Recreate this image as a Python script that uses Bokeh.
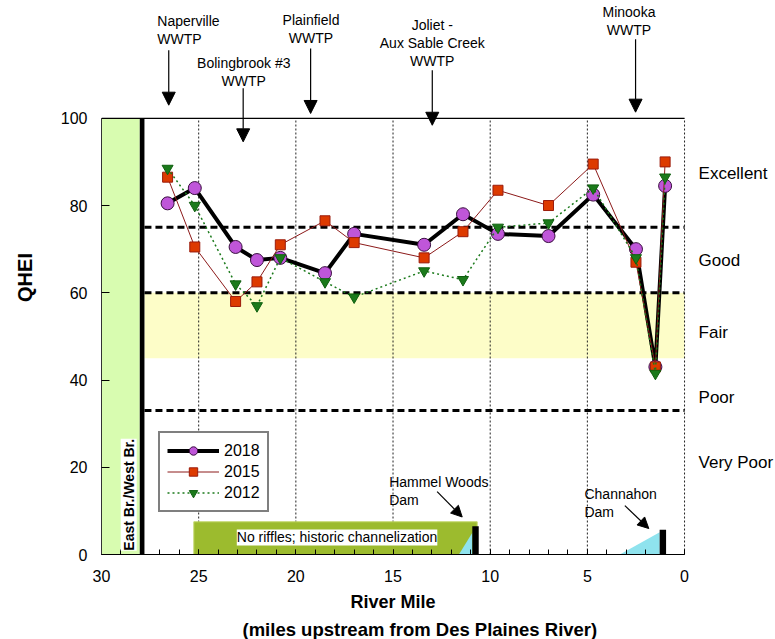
import numpy as np
from bokeh.plotting import figure
from bokeh.models import (Range1d, FixedTicker, Legend, LegendItem, Arrow, NormalHead,
                          Label, Title, ColumnDataSource)
from bokeh.core.properties import value
from bokeh.embed import file_html
from bokeh.resources import INLINE

FONT = "Liberation Sans"

# ---------------- data ----------------
river_mile = [26.6, 25.2, 23.1, 22.0, 20.8, 18.5, 17.0, 13.4, 11.4, 9.6, 7.0, 4.7, 2.5, 1.5, 1.0]
qhei_2018 = [80.5, 84.0, 70.5, 67.5, 68.0, 64.5, 73.5, 71.0, 78.0, 73.5, 73.0, 82.5, 70.0, 43.0, 84.5]
qhei_2015 = [86.5, 70.5, 58.0, 62.5, 71.0, 76.5, 71.5, 68.0, 74.0, 83.5, 80.0, 89.5, 67.0, 43.0, 90.0]
qhei_2012 = [88.5, 80.0, 62.0, 57.0, 68.0, 62.5, 59.0, 65.0, 63.0, 75.0, 76.0, 84.0, 68.0, 41.5, 86.5]

x_ticks = [30, 25, 20, 15, 10, 5, 0]
x_minor = list(range(0, 31))
y_ticks = [0, 20, 40, 60, 80, 100]
grid_x = [25, 20, 15, 10, 5, 0]

threshold_lines = [75, 60, 33]
fair_band = [45, 60]
rating_labels = ["Excellent", "Good", "Fair", "Poor", "Very Poor"]
rating_y = [87.4, 67.5, 51.0, 35.9, 21.0]
rating_x = -0.72

# East/West branch confluence zone
branch_zone = [30, 28.03]
confluence_bar = [28.03, 27.79]

# WWTP outfalls
wwtp_names = ["Bolingbrook #3\nWWTP", "Plainfield\nWWTP", "Joliet -\nAux Sable Creek\nWWTP", "Minooka\nWWTP"]
wwtp_text_x = [22.68, 19.22, 12.98, 2.86]
wwtp_text_y = [106.6, 116.5, 111.2, 118.4]
naper_name = "Naperville\nWWTP"
naper_text_x = 27.13
naper_text_y = 116.3
arrow_x = [26.54, 22.71, 19.24, 12.98, 2.52]
arrow_y0 = [115.6, 106.9, 116.0, 111.0, 118.1]
arrow_y1 = [103.0, 94.6, 101.1, 98.4, 101.4]

# channelized reach and dams
channel_reach = [25.25, 10.67]
channel_height = 7.5
dam_left = [10.92, 1.28]
dam_right = [10.59, 0.95]
dam_height = [6.5, 5.7]
pool_xs = [[11.61, 10.92, 10.92], [3.33, 1.28, 1.28]]
pool_ys = [[0, 0, 5.0], [0, 0, 5.1]]
dam_names = ["Hammel Woods\nDam", "Channahon\nDam"]
dam_text_x = [15.2, 5.15]
dam_text_y = [10.66, 7.8]
dam_arrow_x0 = [12.73, 3.07]
dam_arrow_y0 = [14.4, 11.2]
dam_arrow_x1 = [11.44, 1.84]
dam_arrow_y1 = [8.6, 5.95]

# ---------------- figure ----------------
p = figure(width=775, height=639, x_range=Range1d(30, -4.68), y_range=Range1d(0, 127.0),
           output_backend="svg", toolbar_location=None,
           min_border_left=101, min_border_right=0, min_border_top=0, min_border_bottom=84)
p.outline_line_color = None
p.grid.visible = False
p.background_fill_color = "white"

# backgrounds
p.quad(left=[branch_zone[0]], right=[branch_zone[1]], bottom=[y_ticks[0]], top=[y_ticks[-1]],
       fill_color="#d8fcb0", line_color=None)
p.quad(left=[confluence_bar[1]], right=[x_ticks[-1]], bottom=[fair_band[0]], top=[fair_band[1]],
       fill_color="#fdfdc8", line_color=None)

# vertical dotted grid
p.segment(x0=grid_x, y0=[y_ticks[0]] * len(grid_x), x1=grid_x, y1=[y_ticks[-1]] * len(grid_x),
          line_color="#222222", line_width=1, line_dash="2 2")
# top frame line
p.segment(x0=[x_ticks[0]], y0=[y_ticks[-1]], x1=[x_ticks[-1]], y1=[y_ticks[-1]],
          line_color="black", line_width=1.2)

# thresholds
p.segment(x0=[confluence_bar[1]] * 3, y0=threshold_lines, x1=[x_ticks[-1]] * 3, y1=threshold_lines,
          line_color="black", line_width=3, line_dash="7 4")

# confluence black bar
p.quad(left=[confluence_bar[0]], right=[confluence_bar[1]], bottom=[y_ticks[0]], top=[y_ticks[-1]],
       fill_color="black", line_color=None)

# channelized reach
p.quad(left=[channel_reach[0]], right=[channel_reach[1]], bottom=[0], top=[channel_height],
       fill_color="#9cbb2e", line_color="#c4d86c", line_width=1)
p.patches(xs=pool_xs, ys=pool_ys, fill_color="#8fe3ee", line_color=None)
p.quad(left=dam_left, right=dam_right, bottom=[0, 0], top=dam_height, fill_color="black", line_color=None)

# data series
l18 = p.line(river_mile, qhei_2018, line_color="black", line_width=4)
s18 = p.scatter(river_mile, qhei_2018, marker="circle", size=13, fill_color="#bf56d9",
                line_color="#3a1040", line_width=1)
l15 = p.line(river_mile, qhei_2015, line_color="#8c1a1a", line_width=1)
s15 = p.scatter(river_mile, qhei_2015, marker="square", size=10, fill_color="#dd3a00",
                line_color="#9b1c0c", line_width=1)
l12 = p.line(river_mile, qhei_2012, line_color="#1b7a1b", line_width=1.5, line_dash="2 3")
s12 = p.scatter(river_mile, qhei_2012, marker="inverted_triangle", size=11, fill_color="#1b7a1b",
                line_color="#0f5f0f", line_width=1)

# annotation texts
p.text(x=wwtp_text_x, y=wwtp_text_y, text=wwtp_names, text_align="center", text_baseline="bottom",
       text_font=value(FONT), text_font_size="14px", text_line_height=1.15, text_color="black")
p.text(x=[naper_text_x], y=[naper_text_y], text=[naper_name], text_align="left", text_baseline="bottom",
       text_font=value(FONT), text_font_size="14px", text_line_height=1.15, text_color="black")
p.text(x=dam_text_x, y=dam_text_y, text=dam_names, text_align="left", text_baseline="bottom",
       text_font=value(FONT), text_font_size="14px", text_line_height=1.15, text_color="black")
p.text(x=[rating_x] * len(rating_labels), y=rating_y, text=rating_labels, text_align="left",
       text_baseline="middle", text_font=value(FONT), text_font_size="17px", text_color="black")

arrows_src = ColumnDataSource(dict(x0=arrow_x, y0=arrow_y0, x1=arrow_x, y1=arrow_y1))
p.add_layout(Arrow(end=NormalHead(size=13, fill_color="black", line_color="black"),
                   x_start="x0", y_start="y0", x_end="x1", y_end="y1", source=arrows_src,
                   line_color="black", line_width=1.2))
dam_src = ColumnDataSource(dict(x0=dam_arrow_x0, y0=dam_arrow_y0, x1=dam_arrow_x1, y1=dam_arrow_y1))
p.add_layout(Arrow(end=NormalHead(size=11, fill_color="black", line_color="black"),
                   x_start="x0", y_start="y0", x_end="x1", y_end="y1", source=dam_src,
                   line_color="black", line_width=1.2))

p.add_layout(Label(x=28.6, y=13.7, text="East Br./West Br.", angle=np.pi / 2, text_align="center",
                   text_baseline="middle", background_fill_color="white", text_font=FONT,
                   text_font_size="14px", text_font_style="bold", text_color="black"))
p.add_layout(Label(x=17.88, y=3.9, text="No riffles; historic channelization", text_align="center",
                   text_baseline="middle", background_fill_color="white", text_font=FONT,
                   text_font_size="14px", text_color="black"))

# axes
p.xaxis.ticker = FixedTicker(ticks=x_ticks, minor_ticks=x_minor)
p.xaxis.bounds = (0, 30)
p.xaxis.axis_line_color = "black"
p.xaxis.axis_line_width = 1.2
p.xaxis.major_tick_in = 5
p.xaxis.major_tick_out = 0
p.xaxis.minor_tick_in = 5
p.xaxis.minor_tick_out = 0
p.xaxis.major_tick_line_color = "black"
p.xaxis.minor_tick_line_color = "black"
p.xaxis.major_label_standoff = 15
p.xaxis.major_label_text_font = FONT
p.xaxis.major_label_text_font_size = "16px"
p.xaxis.major_label_text_color = "black"

p.yaxis.ticker = FixedTicker(ticks=y_ticks, minor_ticks=[])
p.yaxis.bounds = (0, 100)
p.yaxis.axis_line_color = "#333333"
p.yaxis.axis_line_width = 1
p.yaxis.major_tick_in = 8
p.yaxis.major_tick_out = 0
p.yaxis.minor_tick_in = 0
p.yaxis.minor_tick_out = 0
p.yaxis.major_tick_line_color = "black"
p.yaxis.major_label_standoff = 14
p.yaxis.major_label_text_font = FONT
p.yaxis.major_label_text_font_size = "16px"
p.yaxis.major_label_text_color = "black"
p.yaxis.axis_label = "QHEI"
p.yaxis.axis_label_text_font = FONT
p.yaxis.axis_label_text_font_size = "20px"
p.yaxis.axis_label_text_font_style = "bold"
p.yaxis.axis_label_text_color = "black"
p.yaxis.axis_label_standoff = 22

t1 = Title(text="River Mile", align="left", offset=249, text_font=FONT, text_font_size="18px",
           text_font_style="bold", text_color="black", standoff=10)
t2 = Title(text="(miles upstream from Des Plaines River)", align="left", offset=141, text_font=FONT,
           text_font_size="18.5px", text_font_style="bold", text_color="black", standoff=0)
p.add_layout(t1, "below")
p.add_layout(t2, "below")

# legend
legend = Legend(items=[LegendItem(label="2018", renderers=[l18, s18]),
                       LegendItem(label="2015", renderers=[l15, s15]),
                       LegendItem(label="2012", renderers=[l12, s12])],
                location=(57, 42), border_line_color="black", border_line_width=2,
                background_fill_color="white", background_fill_alpha=1,
                label_text_font=FONT, label_text_font_size="16px", label_text_color="black",
                glyph_width=52, glyph_height=21, label_height=21, spacing=0, padding=7, margin=0,
                label_standoff=5)
p.add_layout(legend, "center")

open("out.html", "w").write(file_html(p, INLINE))
